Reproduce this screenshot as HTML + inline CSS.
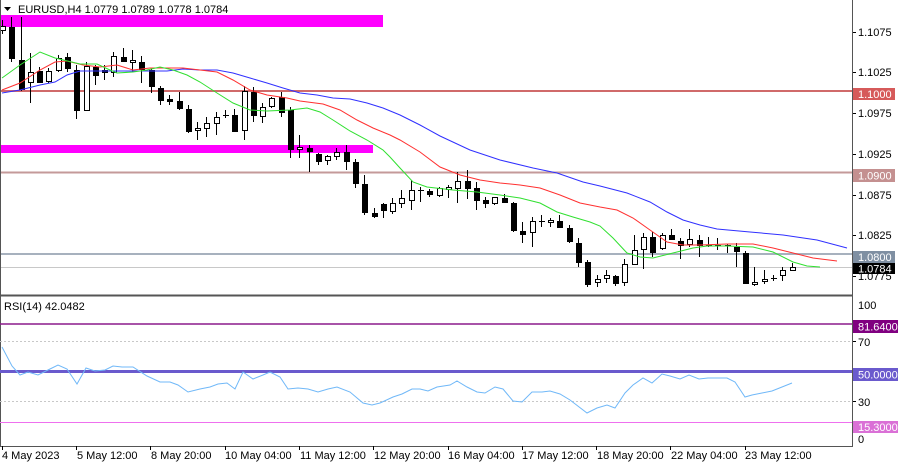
<!DOCTYPE html>
<html><head><meta charset="utf-8"><style>
html,body{margin:0;padding:0;background:#fff;}
svg{display:block;font-family:"Liberation Sans",sans-serif;font-size:11px;}
</style></head><body>
<svg width="900" height="465" viewBox="0 0 900 465" xmlns="http://www.w3.org/2000/svg">
<rect x="0" y="0" width="900" height="465" fill="#fff"/>
<!-- magenta rects -->
<rect x="0" y="15" width="383" height="12" fill="#ff00ff"/>
<rect x="0" y="145" width="373" height="8" fill="#ff00ff"/>
<!-- level lines -->
<line x1="0" y1="91" x2="852" y2="91" stroke="#d06a6a" stroke-width="2"/>
<line x1="0" y1="172.5" x2="852" y2="172.5" stroke="#c49a9a" stroke-width="2"/>
<line x1="0" y1="254" x2="852" y2="254" stroke="#a7b1be" stroke-width="2"/>
<line x1="0" y1="267.5" x2="852" y2="267.5" stroke="#c8c8c8" stroke-width="1"/>
<!-- candles -->
<g stroke="#000" stroke-width="1" shape-rendering="crispEdges">
<line x1="2.5" y1="20" x2="2.5" y2="34"/><rect x="0.5" y="26.5" width="5" height="4" fill="#fff"/>
<line x1="11.5" y1="17" x2="11.5" y2="62"/><rect x="9" y="27" width="6" height="32" fill="#000" stroke="none"/>
<line x1="21.5" y1="17" x2="21.5" y2="91"/><rect x="19" y="60" width="6" height="30" fill="#000" stroke="none"/>
<line x1="30.5" y1="53" x2="30.5" y2="103"/><rect x="28.5" y="72.5" width="5" height="10" fill="#fff"/>
<line x1="39.5" y1="67" x2="39.5" y2="83"/><rect x="37" y="71" width="6" height="12" fill="#000" stroke="none"/>
<line x1="48.5" y1="68" x2="48.5" y2="83"/><rect x="46.5" y="71.5" width="5" height="10" fill="#fff"/>
<line x1="58.5" y1="55" x2="58.5" y2="72"/><rect x="56.5" y="58.5" width="5" height="12" fill="#fff"/>
<line x1="67.5" y1="53" x2="67.5" y2="72"/><rect x="65" y="57" width="6" height="12" fill="#000" stroke="none"/>
<line x1="76.5" y1="65" x2="76.5" y2="119"/><rect x="74" y="70" width="6" height="41" fill="#000" stroke="none"/>
<line x1="86.5" y1="62" x2="86.5" y2="111"/><rect x="84.5" y="66.5" width="5" height="44" fill="#fff"/>
<line x1="95.5" y1="65" x2="95.5" y2="85"/><rect x="93" y="67" width="6" height="9" fill="#000" stroke="none"/>
<line x1="104.5" y1="65" x2="104.5" y2="80"/><rect x="102" y="70" width="6" height="3" fill="#000" stroke="none"/>
<line x1="113.5" y1="52" x2="113.5" y2="77"/><rect x="111.5" y="56.5" width="5" height="16" fill="#fff"/>
<line x1="123.5" y1="48" x2="123.5" y2="62"/><rect x="121" y="57" width="6" height="5" fill="#000" stroke="none"/>
<line x1="132.5" y1="50" x2="132.5" y2="72"/><rect x="130.5" y="60.5" width="5" height="2" fill="#fff"/>
<line x1="141.5" y1="56" x2="141.5" y2="83"/><rect x="139" y="62" width="6" height="8" fill="#000" stroke="none"/>
<line x1="151.5" y1="68" x2="151.5" y2="93"/><rect x="149" y="70" width="6" height="17" fill="#000" stroke="none"/>
<line x1="160.5" y1="86" x2="160.5" y2="105"/><rect x="158" y="88" width="6" height="13" fill="#000" stroke="none"/>
<line x1="169.5" y1="95" x2="169.5" y2="105"/><rect x="167" y="99" width="6" height="3" fill="#000" stroke="none"/>
<line x1="179.5" y1="92" x2="179.5" y2="110"/><rect x="177" y="101" width="6" height="8" fill="#000" stroke="none"/>
<line x1="188.5" y1="105" x2="188.5" y2="133"/><rect x="186" y="109" width="6" height="23" fill="#000" stroke="none"/>
<line x1="197.5" y1="122" x2="197.5" y2="140"/><rect x="195.5" y="128.5" width="5" height="2" fill="#fff"/>
<line x1="206.5" y1="117" x2="206.5" y2="137"/><rect x="204.5" y="123.5" width="5" height="5" fill="#fff"/>
<line x1="216.5" y1="112" x2="216.5" y2="135"/><rect x="214.5" y="117.5" width="5" height="6" fill="#fff"/>
<line x1="225.5" y1="110" x2="225.5" y2="118"/><line x1="223" y1="115.5" x2="229" y2="115.5"/>
<line x1="234.5" y1="109" x2="234.5" y2="132"/><rect x="232" y="115" width="6" height="17" fill="#000" stroke="none"/>
<line x1="244.5" y1="86" x2="244.5" y2="140"/><rect x="242.5" y="91.5" width="5" height="39" fill="#fff"/>
<line x1="253.5" y1="87" x2="253.5" y2="122"/><rect x="251" y="92" width="6" height="24" fill="#000" stroke="none"/>
<line x1="262.5" y1="103" x2="262.5" y2="123"/><rect x="260.5" y="107.5" width="5" height="9" fill="#fff"/>
<line x1="271.5" y1="97" x2="271.5" y2="108"/><rect x="269.5" y="98.5" width="5" height="8" fill="#fff"/>
<line x1="281.5" y1="92" x2="281.5" y2="117"/><rect x="279" y="97" width="6" height="16" fill="#000" stroke="none"/>
<line x1="290.5" y1="107" x2="290.5" y2="158"/><rect x="288" y="110" width="6" height="40" fill="#000" stroke="none"/>
<line x1="299.5" y1="135" x2="299.5" y2="158"/><rect x="297.5" y="147.5" width="5" height="2" fill="#fff"/>
<line x1="309.5" y1="145" x2="309.5" y2="172"/><rect x="307" y="148" width="6" height="4" fill="#000" stroke="none"/>
<line x1="318.5" y1="153" x2="318.5" y2="165"/><rect x="316" y="154" width="6" height="8" fill="#000" stroke="none"/>
<line x1="327.5" y1="155" x2="327.5" y2="165"/><rect x="325.5" y="156.5" width="5" height="4" fill="#fff"/>
<line x1="336.5" y1="148" x2="336.5" y2="160"/><rect x="334.5" y="152.5" width="5" height="4" fill="#fff"/>
<line x1="346.5" y1="145" x2="346.5" y2="170"/><rect x="344" y="152" width="6" height="10" fill="#000" stroke="none"/>
<line x1="355.5" y1="159" x2="355.5" y2="188"/><rect x="353" y="162" width="6" height="22" fill="#000" stroke="none"/>
<line x1="364.5" y1="175" x2="364.5" y2="215"/><rect x="362" y="184" width="6" height="29" fill="#000" stroke="none"/>
<line x1="374.5" y1="208" x2="374.5" y2="218"/><rect x="372" y="213" width="6" height="4" fill="#000" stroke="none"/>
<line x1="383.5" y1="203" x2="383.5" y2="218"/><rect x="381" y="204" width="6" height="7" fill="#000" stroke="none"/>
<line x1="392.5" y1="198" x2="392.5" y2="214"/><rect x="390.5" y="203.5" width="5" height="8" fill="#fff"/>
<line x1="401.5" y1="190" x2="401.5" y2="208"/><rect x="399.5" y="198.5" width="5" height="5" fill="#fff"/>
<line x1="411.5" y1="180" x2="411.5" y2="210"/><rect x="409.5" y="190.5" width="5" height="10" fill="#fff"/>
<line x1="420.5" y1="187" x2="420.5" y2="202"/><line x1="418" y1="190.5" x2="424" y2="190.5"/>
<line x1="429.5" y1="189" x2="429.5" y2="197"/><rect x="427" y="191" width="6" height="4" fill="#000" stroke="none"/>
<line x1="439.5" y1="187" x2="439.5" y2="197"/><rect x="437.5" y="188.5" width="5" height="7" fill="#fff"/>
<line x1="448.5" y1="185" x2="448.5" y2="198"/><rect x="446.5" y="187.5" width="5" height="2" fill="#fff"/>
<line x1="457.5" y1="172" x2="457.5" y2="203"/><rect x="455.5" y="181.5" width="5" height="7" fill="#fff"/>
<line x1="467.5" y1="170" x2="467.5" y2="199"/><rect x="465" y="181" width="6" height="8" fill="#000" stroke="none"/>
<line x1="476.5" y1="182" x2="476.5" y2="210"/><rect x="474" y="188" width="6" height="13" fill="#000" stroke="none"/>
<line x1="485.5" y1="197" x2="485.5" y2="208"/><rect x="483" y="200" width="6" height="4" fill="#000" stroke="none"/>
<line x1="494.5" y1="197" x2="494.5" y2="205"/><rect x="492.5" y="197.5" width="5" height="6" fill="#fff"/>
<line x1="504.5" y1="194" x2="504.5" y2="203"/><rect x="502" y="198" width="6" height="5" fill="#000" stroke="none"/>
<line x1="513.5" y1="202" x2="513.5" y2="232"/><rect x="511" y="203" width="6" height="28" fill="#000" stroke="none"/>
<line x1="522.5" y1="222" x2="522.5" y2="243"/><rect x="520" y="231" width="6" height="4" fill="#000" stroke="none"/>
<line x1="532.5" y1="217" x2="532.5" y2="247"/><rect x="530.5" y="221.5" width="5" height="11" fill="#fff"/>
<line x1="541.5" y1="215" x2="541.5" y2="227"/><line x1="539" y1="221.5" x2="545" y2="221.5"/>
<line x1="550.5" y1="218" x2="550.5" y2="227"/><rect x="548.5" y="220.5" width="5" height="2" fill="#fff"/>
<line x1="559.5" y1="215" x2="559.5" y2="228"/><rect x="557" y="221" width="6" height="7" fill="#000" stroke="none"/>
<line x1="569.5" y1="225" x2="569.5" y2="243"/><rect x="567" y="228" width="6" height="14" fill="#000" stroke="none"/>
<line x1="578.5" y1="238" x2="578.5" y2="267"/><rect x="576" y="243" width="6" height="20" fill="#000" stroke="none"/>
<line x1="587.5" y1="260" x2="587.5" y2="287"/><rect x="585" y="262" width="6" height="23" fill="#000" stroke="none"/>
<line x1="597.5" y1="275" x2="597.5" y2="287"/><rect x="595.5" y="279.5" width="5" height="3" fill="#fff"/>
<line x1="606.5" y1="270" x2="606.5" y2="283"/><rect x="604.5" y="275.5" width="5" height="3" fill="#fff"/>
<line x1="615.5" y1="275" x2="615.5" y2="286"/><rect x="613" y="276" width="6" height="8" fill="#000" stroke="none"/>
<line x1="624.5" y1="259" x2="624.5" y2="286"/><rect x="622.5" y="264.5" width="5" height="18" fill="#fff"/>
<line x1="634.5" y1="235" x2="634.5" y2="265"/><rect x="632.5" y="250.5" width="5" height="14" fill="#fff"/>
<line x1="643.5" y1="233" x2="643.5" y2="269"/><rect x="641.5" y="237.5" width="5" height="12" fill="#fff"/>
<line x1="652.5" y1="232" x2="652.5" y2="257"/><rect x="650" y="237" width="6" height="16" fill="#000" stroke="none"/>
<line x1="662.5" y1="233" x2="662.5" y2="250"/><rect x="660.5" y="235.5" width="5" height="13" fill="#fff"/>
<line x1="671.5" y1="229" x2="671.5" y2="240"/><rect x="669" y="235" width="6" height="5" fill="#000" stroke="none"/>
<line x1="680.5" y1="238" x2="680.5" y2="259"/><rect x="678" y="241" width="6" height="5" fill="#000" stroke="none"/>
<line x1="689.5" y1="229" x2="689.5" y2="247"/><rect x="687.5" y="239.5" width="5" height="5" fill="#fff"/>
<line x1="699.5" y1="235" x2="699.5" y2="257"/><rect x="697" y="240" width="6" height="6" fill="#000" stroke="none"/>
<line x1="708.5" y1="237" x2="708.5" y2="247"/><line x1="706" y1="245.5" x2="712" y2="245.5"/>
<line x1="717.5" y1="238" x2="717.5" y2="250"/><line x1="715" y1="245.5" x2="721" y2="245.5"/>
<line x1="727.5" y1="244" x2="727.5" y2="253"/><line x1="725" y1="245.5" x2="731" y2="245.5"/>
<line x1="736.5" y1="243" x2="736.5" y2="267"/><rect x="734" y="247" width="6" height="5" fill="#000" stroke="none"/>
<line x1="745.5" y1="251" x2="745.5" y2="284"/><rect x="743" y="253" width="6" height="31" fill="#000" stroke="none"/>
<line x1="754.5" y1="267" x2="754.5" y2="286"/><rect x="752.5" y="282.5" width="5" height="2" fill="#fff"/>
<line x1="764.5" y1="270" x2="764.5" y2="284"/><rect x="762.5" y="279.5" width="5" height="2" fill="#fff"/>
<line x1="773.5" y1="275" x2="773.5" y2="281"/><line x1="771" y1="278.5" x2="777" y2="278.5"/>
<line x1="782.5" y1="267" x2="782.5" y2="281"/><rect x="780.5" y="270.5" width="5" height="5" fill="#fff"/>
<line x1="792.5" y1="263" x2="792.5" y2="271"/><rect x="790.5" y="267.5" width="5" height="3" fill="#fff"/>
</g>
<!-- moving averages -->
<polyline fill="none" stroke="#3030ff" stroke-width="1" points="2,93 20,90 40,85 55,82 67,75 80,71 100,71 133,71 167,71 183,69 200,70 217,70 233,73 250,78 267,83 283,88 300,93 317,95 333,98 350,99 367,103 383,108 400,115 420,125 440,136 470,150 500,160 533,168 557,173 583,182 600,186 627,193 650,202 667,212 683,220 700,225 717,229 750,232 783,235 817,240 847,248"/>
<polyline fill="none" stroke="#ff3030" stroke-width="1" points="2,90 20,83 40,70 55,62 67,61 83,65 100,67 117,65 133,70 150,68 167,68 183,68 200,70 217,72 233,80 250,90 267,95 287,98 300,101 323,104 340,110 357,120 373,128 390,135 400,140 420,152 440,167 460,175 480,180 500,183 520,185 540,188 560,195 580,203 600,207 617,210 633,218 650,230 667,242 683,245 700,245 727,244 753,244 773,248 793,253 813,258 837,261"/>
<polyline fill="none" stroke="#30e030" stroke-width="1" points="2,78 20,65 40,52 55,58 80,64 97,64 110,70 117,73 133,72 147,70 160,67 173,70 187,75 200,82 217,93 233,103 250,110 267,111 290,110 307,108 320,112 333,120 350,131 367,140 383,150 390,157 400,168 413,182 427,187 453,190 477,192 500,195 520,198 540,203 557,212 573,217 590,222 600,226 613,238 627,253 640,257 653,258 673,253 693,248 707,246 727,246 753,247 773,252 793,262 807,266 820,267"/>
<!-- title -->
<polygon points="4,7 11,7 7.5,11" fill="#000"/>
<text x="18" y="13" fill="#000">EURUSD,H4  1.0779 1.0789 1.0778 1.0784</text>
<!-- frames -->
<line x1="0.5" y1="0" x2="0.5" y2="446" stroke="#555" stroke-width="1"/>
<line x1="852.5" y1="0" x2="852.5" y2="447" stroke="#555" stroke-width="1"/>
<line x1="0" y1="295.5" x2="853" y2="295.5" stroke="#555" stroke-width="2"/>
<line x1="0" y1="446.5" x2="853" y2="446.5" stroke="#555" stroke-width="1"/>
<!-- right price axis -->
<g stroke="#000" stroke-width="1">
<line x1="853" y1="32.5" x2="856" y2="32.5"/><line x1="853" y1="72.5" x2="856" y2="72.5"/>
<line x1="853" y1="113.5" x2="856" y2="113.5"/><line x1="853" y1="154.5" x2="856" y2="154.5"/>
<line x1="853" y1="195.5" x2="856" y2="195.5"/><line x1="853" y1="235.5" x2="856" y2="235.5"/>
<line x1="853" y1="276.5" x2="856" y2="276.5"/>
</g>
<g fill="#000">
<text x="858" y="36">1.1075</text>
<text x="858" y="76">1.1025</text>
<text x="858" y="117">1.0975</text>
<text x="858" y="158">1.0925</text>
<text x="858" y="199">1.0875</text>
<text x="858" y="239">1.0825</text>
<text x="858" y="280">1.0775</text>
</g>
<rect x="853" y="88" width="42" height="12" fill="#d65a5a"/><text x="858" y="98" fill="#fff">1.1000</text>
<rect x="853" y="169" width="42" height="13" fill="#c49090"/><text x="858" y="179.5" fill="#fff">1.0900</text>
<rect x="853" y="251" width="42" height="12" fill="#7f8fa2"/><text x="858" y="261" fill="#fff">1.0800</text>
<rect x="853" y="263" width="42" height="11" fill="#000"/><text x="858" y="272.5" fill="#fff">1.0784</text>
<!-- RSI window -->
<text x="4" y="310" fill="#000">RSI(14) 42.0482</text>
<line x1="0" y1="341.5" x2="852" y2="341.5" stroke="#c8c8c8" stroke-dasharray="2,2"/>
<line x1="0" y1="401.5" x2="852" y2="401.5" stroke="#c8c8c8" stroke-dasharray="2,2"/>
<line x1="0" y1="324" x2="852" y2="324" stroke="#8b1a8b" stroke-width="1.5"/>
<line x1="0" y1="371.5" x2="852" y2="371.5" stroke="#6a5acd" stroke-width="3"/>
<line x1="0" y1="422.5" x2="852" y2="422.5" stroke="#ee70ee" stroke-width="1"/>
<polyline fill="none" stroke="#70b8f8" stroke-width="1" points="2,347 12,366 20,375 28,372 38,375 50,369 58,365 67,369 77,384 86,368 95,371 105,370 113,366 122,367 133,367 147,376 160,382 170,382 178,385 188,392 200,389 210,387 218,384 227,383 235,389 243,372 253,379 263,375 270,372 280,377 288,389 298,388 308,389 318,392 328,389 337,387 350,392 363,403 372,405 380,403 393,397 402,394 412,389 420,389 428,391 437,387 450,385 457,381 467,387 477,392 485,393 495,387 503,389 513,401 522,402 532,392 542,392 550,391 560,394 570,400 587,413 597,408 607,405 615,408 625,393 633,385 643,378 652,383 662,374 670,376 680,379 689,375 699,379 708,378 717,378 727,378 735,382 745,397 752,395 762,393 772,391 782,387 792,383"/>
<g stroke="#000" stroke-width="1">
<line x1="853" y1="341.5" x2="856" y2="341.5"/><line x1="853" y1="401.5" x2="856" y2="401.5"/>
</g>
<g fill="#000">
<text x="858" y="309">100</text>
<text x="858" y="346">70</text>
<text x="858" y="406">30</text>
<text x="858" y="443">0</text>
</g>
<rect x="853" y="320" width="45" height="13" fill="#800080"/><text x="858" y="330.5" fill="#fff">81.6400</text>
<rect x="853" y="368" width="45" height="13" fill="#6a5acd"/><text x="858" y="378.5" fill="#fff">50.0000</text>
<rect x="853" y="421" width="45" height="12" fill="#da70d6"/><text x="858" y="431" fill="#fff">15.3000</text>
<!-- time axis -->
<g stroke="#000" stroke-width="1">
<line x1="2.5" y1="446" x2="2.5" y2="450"/><line x1="76.5" y1="446" x2="76.5" y2="450"/>
<line x1="150.5" y1="446" x2="150.5" y2="450"/><line x1="225.5" y1="446" x2="225.5" y2="450"/>
<line x1="299.5" y1="446" x2="299.5" y2="450"/><line x1="373.5" y1="446" x2="373.5" y2="450"/>
<line x1="448.5" y1="446" x2="448.5" y2="450"/><line x1="522.5" y1="446" x2="522.5" y2="450"/>
<line x1="596.5" y1="446" x2="596.5" y2="450"/><line x1="670.5" y1="446" x2="670.5" y2="450"/>
<line x1="745.5" y1="446" x2="745.5" y2="450"/>
</g>
<g fill="#000">
<text x="2" y="459">4 May 2023</text>
<text x="77" y="459">5 May 12:00</text>
<text x="151" y="459">8 May 20:00</text>
<text x="225" y="459">10 May 04:00</text>
<text x="300" y="459">11 May 12:00</text>
<text x="374" y="459">12 May 20:00</text>
<text x="448" y="459">16 May 04:00</text>
<text x="522" y="459">17 May 12:00</text>
<text x="597" y="459">18 May 20:00</text>
<text x="671" y="459">22 May 04:00</text>
<text x="745" y="459">23 May 12:00</text>
</g>
</svg>
</body></html>
